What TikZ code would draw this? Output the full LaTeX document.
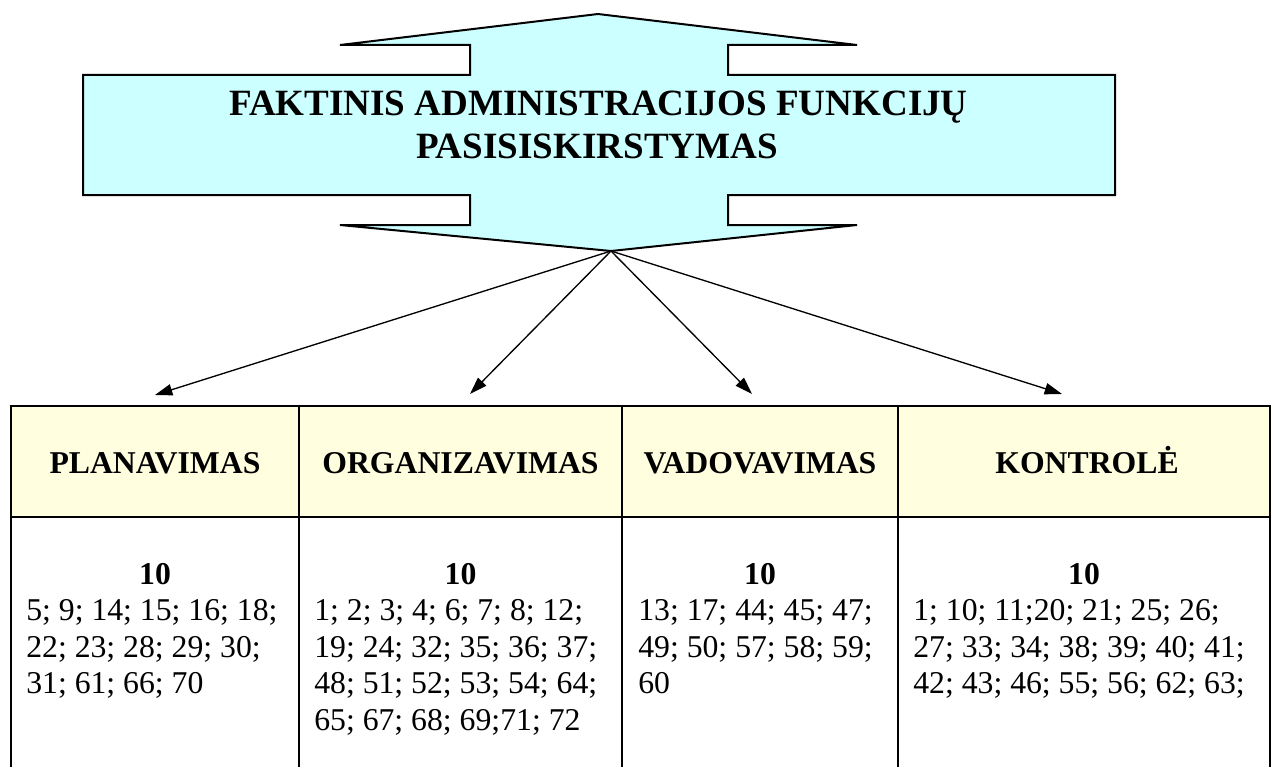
\documentclass[tikz,border=0pt]{standalone}
\usepackage{fontspec}
\setmainfont{Liberation Serif}
\usetikzlibrary{arrows.meta}
\definecolor{titlefill}{HTML}{CCFFFF}
\definecolor{hdrfill}{HTML}{FFFFE0}
\begin{document}
\begin{tikzpicture}[x=0.75pt,y=-0.75pt,
  outline/.style={draw=black, line width=1.5pt, line join=miter},
  conn/.style={-{Triangle[length=13pt,width=8.5pt]}, line width=1pt},
  tbl/.style={draw=black, line width=2pt},
  ttl/.style={font=\fontsize{27.8}{32}\selectfont\bfseries, inner sep=0pt, anchor=base},
  hdr/.style={font=\fontsize{23.8}{27}\selectfont\bfseries, inner sep=0pt, anchor=base},
  cnt/.style={font=\fontsize{23.8}{27}\selectfont\bfseries, inner sep=0pt, anchor=base},
  num/.style={font=\fontsize{23.8}{27}\selectfont, inner sep=0pt, anchor=base west}]
\useasboundingbox (0,0) rectangle (1274,767);

% title arrow shape
\path[outline, fill=titlefill]
  (598,14) -- (857,45) -- (728,45) -- (728,75) -- (1115,75) -- (1115,195)
  -- (728,195) -- (728,225) -- (857,225) -- (611,251) -- (340,225)
  -- (470,225) -- (470,195) -- (83,195) -- (83,75) -- (470,75)
  -- (470,45) -- (340,45) -- cycle;
\coordinate (apex) at (611,251);
\node[ttl] (title1) at (598.5,115) {FAKTINIS ADMINISTRACIJOS FUNKCIJŲ};
\node[ttl] (title2) at (597,158) {PASISISKIRSTYMAS};

% table
\fill[hdrfill] (11,406) rectangle (1270,517);
\draw[tbl] (11,767) -- (11,406) -- (1270,406) -- (1270,767);
\draw[tbl] (11,517) -- (1270,517);
\draw[tbl] (299,406) -- (299,767);
\draw[tbl] (622,406) -- (622,767);
\draw[tbl] (898,406) -- (898,767);

\node[hdr] (h1) at (155,473) {PLANAVIMAS};
\node[hdr] (h2) at (460.5,473) {ORGANIZAVIMAS};
\node[hdr] (h3) at (760,473) {VADOVAVIMAS};
\node[hdr] (h4) at (1087,473) {KONTROLĖ};

% arrows
\coordinate (t1) at (155,395);
\coordinate (t2) at (470,394);
\coordinate (t3) at (752,394);
\coordinate (t4) at (1062,394);
\draw[conn] (apex) -- (t1);
\draw[conn] (apex) -- (t2);
\draw[conn] (apex) -- (t3);
\draw[conn] (apex) -- (t4);

% body
\node[cnt] (n1) at (155,584) {10};
\node[cnt] (n2) at (460.5,584) {10};
\node[cnt] (n3) at (760,584) {10};
\node[cnt] (n4) at (1084,584) {10};

\node[num] (a1) at (26,620.5) {5; 9; 14; 15; 16; 18;};
\node[num] (a2) at (26,657) {22; 23; 28; 29; 30;};
\node[num] (a3) at (26,693.5) {31; 61; 66; 70};

\node[num] (b1) at (314,620.5) {1; 2; 3; 4; 6; 7; 8; 12;};
\node[num] (b2) at (314,657) {19; 24; 32; 35; 36; 37;};
\node[num] (b3) at (314,693.5) {48; 51; 52; 53; 54; 64;};
\node[num] (b4) at (314,730) {65; 67; 68; 69;71; 72};

\node[num] (c1) at (638,620.5) {13; 17; 44; 45; 47;};
\node[num] (c2) at (638,657) {49; 50; 57; 58; 59;};
\node[num] (c3) at (638,693.5) {60};

\node[num] (d1) at (913,620.5) {1; 10; 11;20; 21; 25; 26;};
\node[num] (d2) at (913,657) {27; 33; 34; 38; 39; 40; 41;};
\node[num] (d3) at (913,693.5) {42; 43; 46; 55; 56; 62; 63;};
\end{tikzpicture}
\end{document}
